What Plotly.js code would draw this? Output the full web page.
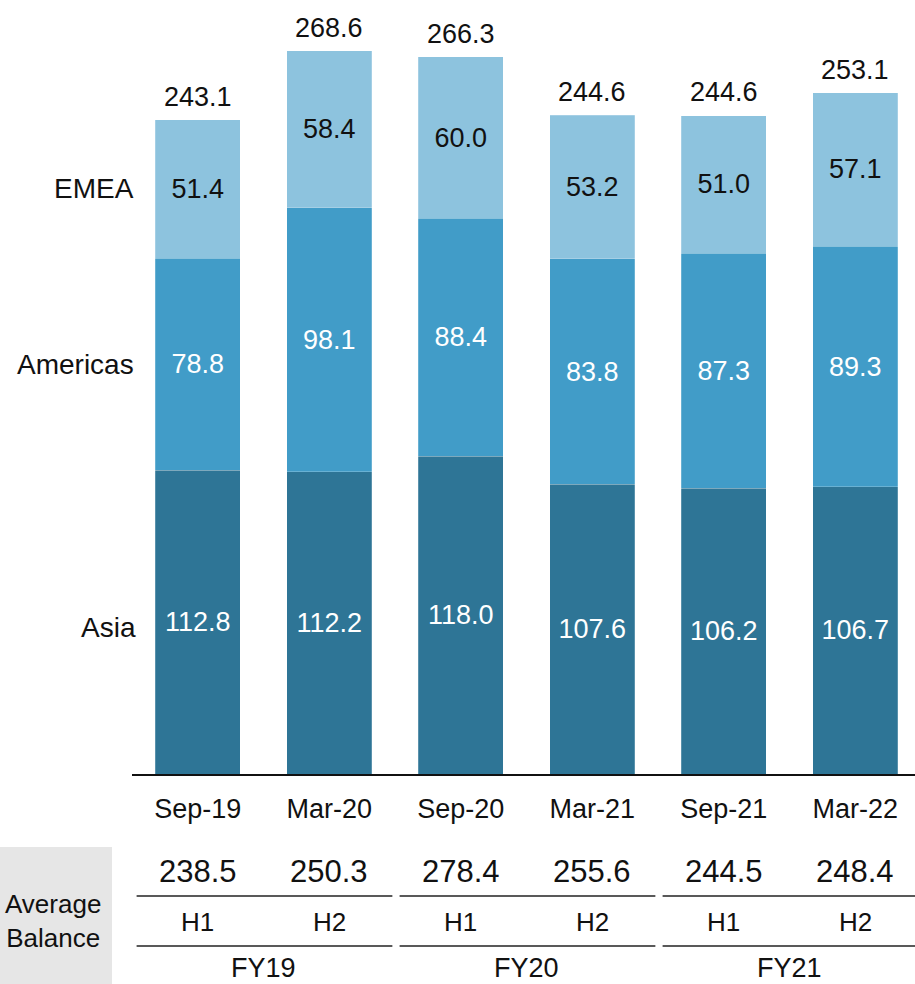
<!DOCTYPE html>
<html>
<head>
<meta charset="utf-8">
<script src="https://cdn.plot.ly/plotly-3.0.1.min.js"></script>
<style>
  html, body { margin: 0; padding: 0; background: #fff; }
  #chart { width: 915px; height: 984px; }
</style>
</head>
<body>
<div id="chart"></div>
<script>
// ---- data ----
const periods = ["Sep-19", "Mar-20", "Sep-20", "Mar-21", "Sep-21", "Mar-22"];
const asia = [112.8, 112.2, 118.0, 107.6, 106.2, 106.7];
const americas = [78.8, 98.1, 88.4, 83.8, 87.3, 89.3];
const emea = [51.4, 58.4, 60.0, 53.2, 51.0, 57.1];
const totals = [243.1, 268.6, 266.3, 244.6, 244.6, 253.1];
const avgBalance = [238.5, 250.3, 278.4, 255.6, 244.5, 248.4];
const halves = ["H1", "H2", "H1", "H2", "H1", "H2"];
const fiscalYears = ["FY19", "FY20", "FY21"];
const seriesNames = ["Asia", "Americas", "EMEA"];

// ---- layout constants ----
const W = 915, H = 984;
const mL = 132, mR = 0, mT = 0, mB = 210;
const plotH = H - mT - mB;          // 774
const yMax = 287.5;
const FONT = "Arial, 'Liberation Sans', sans-serif";
const colors = { Asia: "#2E7596", Americas: "#419CC8", EMEA: "#8DC3DE" };

const px2paperY = py => (plotH + mT - py) / plotH;

function barTrace(name, vals, txtColor) {
  return {
    type: "bar",
    name: name,
    x: periods,
    y: vals,
    marker: { color: colors[name], line: { width: 0.6, color: "rgba(255,255,255,0.35)" } },
    text: vals.map(v => v.toFixed(1)),
    textposition: "inside",
    insidetextanchor: "middle",
    constraintext: "none",
    textfont: { family: FONT, size: 27, color: txtColor },
    hoverinfo: "skip",
    cliponaxis: false
  };
}

const data = [
  barTrace("Asia", asia, "#ffffff"),
  barTrace("Americas", americas, "#ffffff"),
  barTrace("EMEA", emea, "#111111")
];

const annotations = [];
const shapes = [];

// totals above bars
periods.forEach((p, i) => {
  annotations.push({
    x: p, y: totals[i], xref: "x", yref: "y",
    text: totals[i].toFixed(1), showarrow: false,
    yanchor: "bottom", yshift: 6,
    font: { family: FONT, size: 27, color: "#111" }
  });
});

// region labels at middle of first bar's segments
const mids = [asia[0] / 2, asia[0] + americas[0] / 2, asia[0] + americas[0] + emea[0] / 2];
seriesNames.forEach((n, k) => {
  annotations.push({
    x: 0, y: mids[k] - (n === "Asia" ? 2 : 0), xref: "paper", yref: "y",
    text: n, showarrow: false, xanchor: "right", yanchor: "middle",
    xshift: n === "Asia" ? 6 : 4,
    font: { family: FONT, size: 28, color: "#111" }
  });
});

// grey box for "Average Balance"
shapes.push({
  type: "rect", xref: "paper", yref: "paper",
  x0: (0 - mL) / (W - mL - mR), x1: (112 - mL) / (W - mL - mR),
  y0: px2paperY(847), y1: px2paperY(H + 5),
  fillcolor: "#E6E6E6", line: { width: 0 }, layer: "below"
});
annotations.push({
  x: (53 - mL) / (W - mL - mR), y: px2paperY(921), xref: "paper", yref: "paper",
  text: "Average<br>Balance", showarrow: false, xanchor: "center", yanchor: "middle",
  align: "center",
  font: { family: FONT, size: 26, color: "#111" }
});

// average balance values + half labels
periods.forEach((p, i) => {
  annotations.push({
    x: p, y: px2paperY(871), xref: "x", yref: "paper",
    text: avgBalance[i].toFixed(1), showarrow: false, yanchor: "middle",
    font: { family: FONT, size: 31, color: "#111" }
  });
  annotations.push({
    x: p, y: px2paperY(922), xref: "x", yref: "paper",
    text: halves[i], showarrow: false, yanchor: "middle",
    font: { family: FONT, size: 26, color: "#111" }
  });
});

// fiscal years + separator lines
fiscalYears.forEach((fy, g) => {
  const i0 = g * 2;
  annotations.push({
    x: i0 + 0.5, y: px2paperY(968), xref: "x", yref: "paper",
    text: fy, showarrow: false, yanchor: "middle",
    font: { family: FONT, size: 27, color: "#111" }
  });
  const xa = i0 - 0.465, xb = (g === fiscalYears.length - 1) ? 5.46 : i0 + 1.48;
  [896, 946].forEach(py => {
    shapes.push({
      type: "line", xref: "x", yref: "paper",
      x0: xa, x1: xb, y0: px2paperY(py), y1: px2paperY(py),
      line: { color: "#222", width: 1.5 }
    });
  });
});

const plotW = W - mL - mR;
const pitch = 131.5;
const xStart = -0.5;
const layout = {
  width: W, height: H,
  margin: { l: mL, r: mR, t: mT, b: mB, pad: 0 },
  paper_bgcolor: "#fff", plot_bgcolor: "#fff",
  barmode: "stack",
  bargap: 0.353,
  showlegend: false,
  xaxis: {
    type: "category",
    range: [xStart, xStart + plotW / pitch],
    showline: true, linecolor: "#111", linewidth: 2,
    showgrid: false, zeroline: false,
    ticks: "outside", ticklen: 10, tickcolor: "rgba(0,0,0,0)",
    tickfont: { family: FONT, size: 27, color: "#111" },
    fixedrange: true
  },
  yaxis: {
    range: [0, yMax],
    visible: false, showgrid: false, zeroline: false,
    fixedrange: true
  },
  annotations: annotations,
  shapes: shapes,
  font: { family: FONT }
};

Plotly.newPlot("chart", data, layout, { displayModeBar: false, staticPlot: true });
</script>
</body>
</html>
